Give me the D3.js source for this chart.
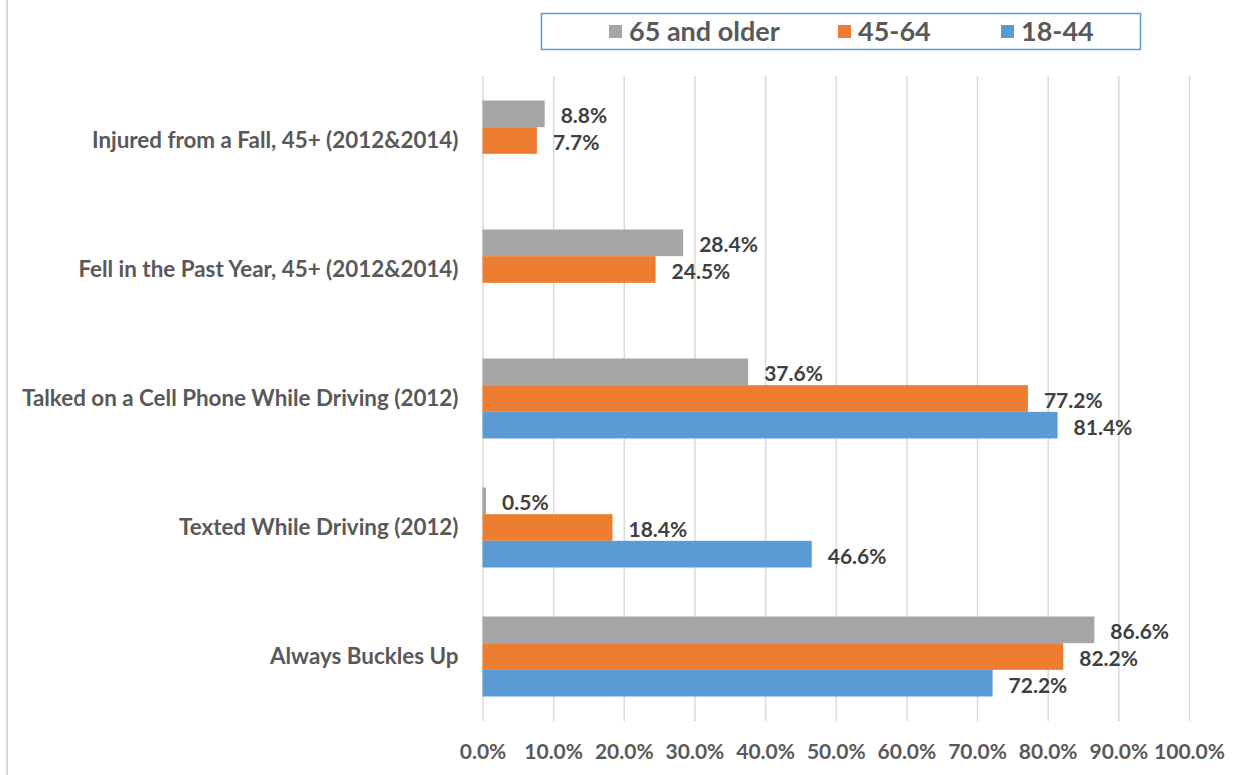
<!DOCTYPE html>
<html><head><meta charset="utf-8">
<script src="https://cdn.jsdelivr.net/npm/d3@7"></script>
<style>html,body{margin:0;padding:0;background:#fff;}svg{display:block;}</style>
</head><body>
<svg id="chart" width="1244" height="775"></svg>
<script>
const categories = ["Injured from a Fall, 45+ (2012&2014)","Fell in the Past Year, 45+ (2012&2014)","Talked on a Cell Phone While Driving (2012)","Texted While Driving (2012)","Always Buckles Up"];
const seriesNames = ["65 and older","45-64","18-44"];
const seriesColors = ["#A5A5A5","#ED7D31","#5B9BD5"];
const older65 = [8.8, 28.4, 37.6, 0.5, 86.6];
const age45to64 = [7.7, 24.5, 77.2, 18.4, 82.2];
const age18to44 = [null, null, 81.4, 46.6, 72.2];
const xTicks = [0,10,20,30,40,50,60,70,80,90,100];

(function(){
const series = [older65, age45to64, age18to44];
const svg = d3.select("#chart");
const FONT = "Lato, 'Open Sans', sans-serif";
const pL = 482.5, pR = 1189, pT = 76, pB = 721;

svg.append("line").attr("x1",7).attr("x2",7).attr("y1",0).attr("y2",775).attr("stroke","#d9d9d9").attr("stroke-width",2);

const x = d3.scaleLinear().domain([0,100]).range([pL,pR]);
const y = d3.scaleBand().domain(categories).range([pT,pB]).paddingInner(0.38).paddingOuter(0.19);
const ys = d3.scaleBand().domain(d3.range(3)).range([0,y.bandwidth()]);

const xAxis = d3.axisBottom(x).tickValues(xTicks).tickSize(-(pB-pT)).tickFormat(d=>d.toFixed(1)+"%").tickPadding(0);
const gx = svg.append("g").attr("transform",`translate(0,${pB})`).call(xAxis);
gx.select(".domain").remove();
gx.selectAll(".tick line").attr("stroke","#d9d9d9").attr("stroke-width",1.5);
gx.selectAll(".tick text").attr("y",31).attr("dy","0.35em").attr("fill","#595959").style("font-family",FONT).style("font-weight","bold").style("font-size","21px");

const g = svg.append("g");
series.forEach((vals,si)=>{
  vals.forEach((v,ci)=>{
    if(v===null) return;
    const yy = y(categories[ci]) + ys(si);
    g.append("rect").attr("x",x(0)).attr("y",yy).attr("width",x(v)-x(0)).attr("height",ys.bandwidth()).attr("fill",seriesColors[si]);
    g.append("text").attr("x",x(v)+16).attr("y",yy+ys.bandwidth()/2+2).attr("dy","0.35em")
      .attr("fill","#404040").style("font-family",FONT).style("font-weight","bold").style("font-size","21px")
      .text(v.toFixed(1)+"%");
  });
});

const yAxis = d3.axisLeft(y).tickSize(0).tickPadding(24);
const gy = svg.append("g").attr("transform",`translate(${pL},0)`).call(yAxis);
gy.select(".domain").remove();
gy.selectAll(".tick text").attr("fill","#595959").style("font-family",FONT).style("font-weight","bold").style("font-size","22.4px");

svg.append("rect").attr("x",541.5).attr("y",13.5).attr("width",599).attr("height",36).attr("fill","#fff").attr("stroke","#5B9BD5").attr("stroke-width",1.5);
const legX = [609, 838, 1001];
seriesNames.forEach((n,i)=>{
  svg.append("rect").attr("x",legX[i]).attr("y",25).attr("width",13).attr("height",13).attr("fill",seriesColors[i]);
  svg.append("text").attr("x",legX[i]+20).attr("y",32).attr("dy","0.35em").attr("fill","#595959")
    .style("font-family",FONT).style("font-weight","bold").style("font-size","27px").text(n);
});
})();
</script>
</body></html>
